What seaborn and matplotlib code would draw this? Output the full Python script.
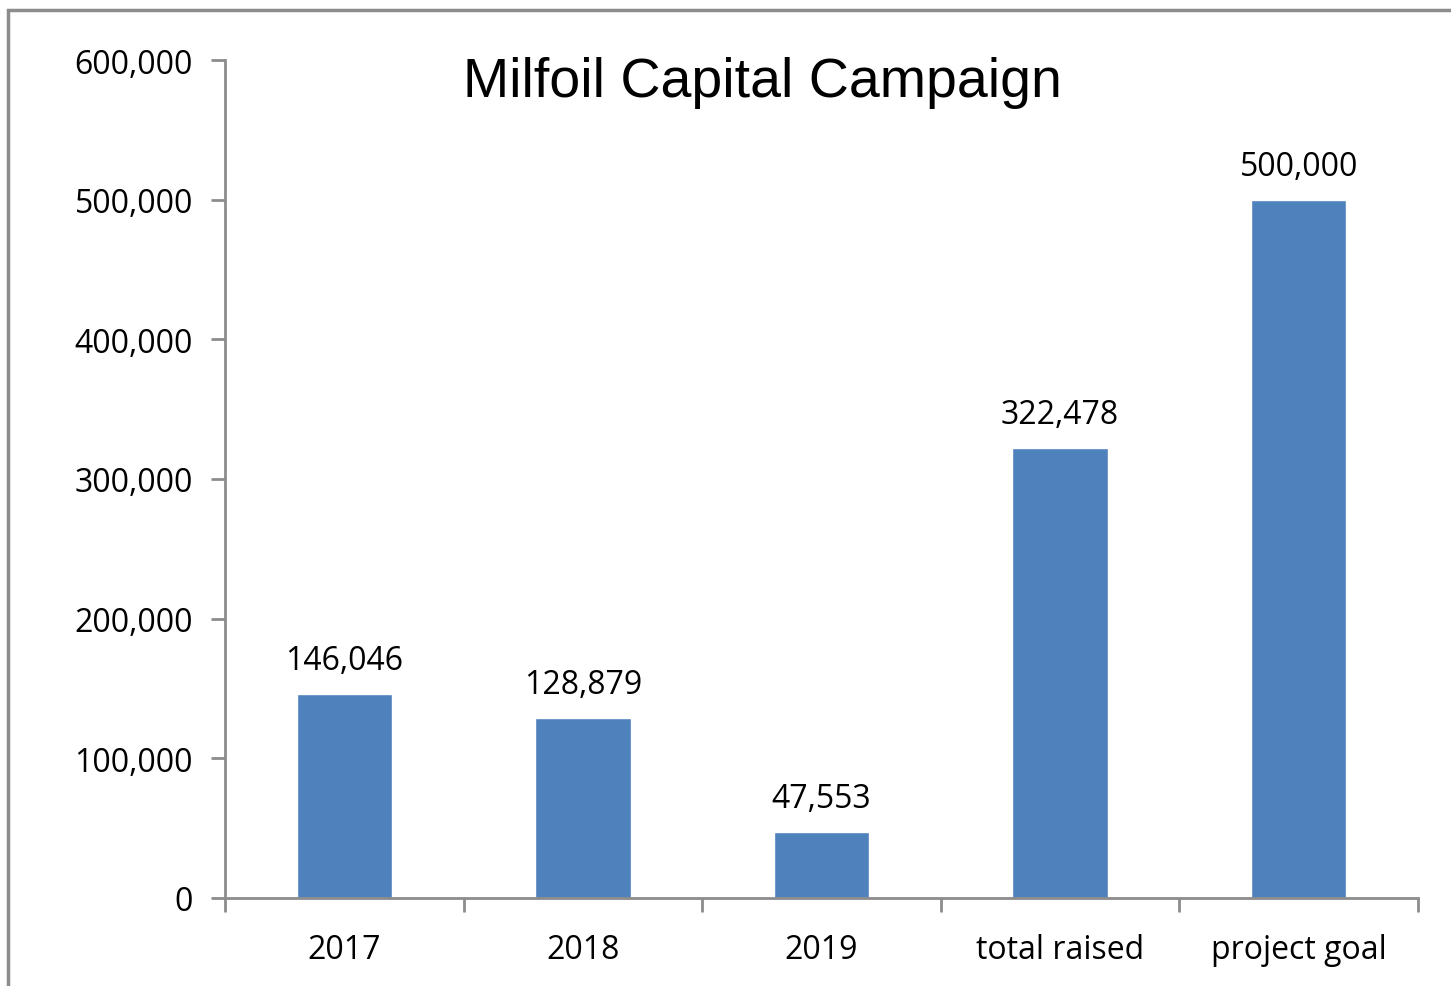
import matplotlib
matplotlib.use("Agg")
import matplotlib.pyplot as plt
import matplotlib.patches as patches
from matplotlib.ticker import FuncFormatter
import seaborn as sns
import pandas as pd

# chart data
categories = ["2017", "2018", "2019", "total raised", "project goal"]
amounts = [146046, 128879, 47553, 322478, 500000]
y_ticks = [0, 100000, 200000, 300000, 400000, 500000, 600000]

df = pd.DataFrame({"category": categories, "amount": amounts})

sns.set_style("white", {"xtick.bottom": True, "ytick.left": True,
                        "text.color": "black", "xtick.color": "black",
                        "ytick.color": "black"})
plt.rcParams["font.family"] = ["Open Sans", "DejaVu Sans"]

fig = plt.figure(figsize=(14.51, 9.87), dpi=100)
ax = fig.add_axes([225 / 1451, 1 - 899 / 987, 1193 / 1451, 838 / 987])

bar_color = "#4F81BD"
sns.barplot(data=df, x="category", y="amount", color=bar_color, width=0.4,
            saturation=1, ax=ax)

ax.set_xlim(-0.5, 4.5)
ax.set_ylim(0, 600000)
ax.set_yticks(y_ticks)
ax.yaxis.set_major_formatter(FuncFormatter(lambda v, p: f"{int(v):,}"))
ax.set_xlabel("")
ax.set_ylabel("")

grey = "#8c8c8c"
for side in ["top", "right"]:
    ax.spines[side].set_visible(False)
for side in ["left", "bottom"]:
    ax.spines[side].set_color(grey)
    ax.spines[side].set_linewidth(2)

# category ticks between the bars
ax.set_xticks([i - 0.5 for i in range(len(categories) + 1)], minor=True)
ax.tick_params(axis="x", which="minor", bottom=True, direction="out", length=10,
               width=2, color=grey)
ax.tick_params(axis="x", which="major", length=0, pad=25, labelsize=23,
               labelcolor="black")
ax.tick_params(axis="y", left=True, direction="out", length=10, width=2,
               color=grey, pad=13, labelsize=23, labelcolor="black")

# value labels
for i, v in enumerate(amounts):
    ax.annotate(f"{v:,}", (i, v), xytext=(0, 18), textcoords="offset points",
                ha="center", va="baseline", fontsize=23, color="black")

fig.text(762 / 1451, 1 - 97 / 987, "Milfoil Capital Campaign", ha="center",
         va="baseline", fontsize=40, color="black",
         family=["Liberation Sans", "DejaVu Sans"])

# chart frame
fig.patches.append(patches.Rectangle((8 / 1451, -0.1), 1.2, 1.1 - 11 / 987,
                                     transform=fig.transFigure, fill=False,
                                     edgecolor=grey, linewidth=2.5))

fig.savefig("out.png", dpi=100)
